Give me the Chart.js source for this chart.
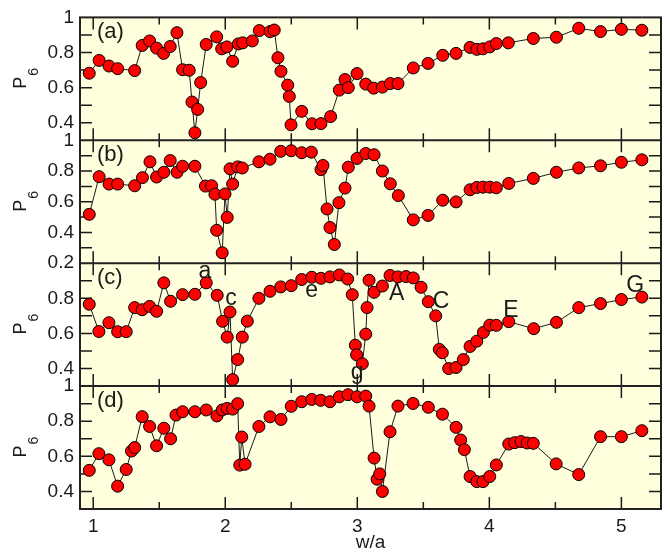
<!DOCTYPE html>
<html>
<head>
<meta charset="utf-8">
<script src="https://cdn.jsdelivr.net/npm/chart.js@4.4.1/dist/chart.umd.min.js"></script>
<style>
  html, body { margin: 0; padding: 0; background: #fff; }
</style>
</head>
<body>
<canvas id="chart" width="670" height="555"></canvas>
<script>
// P6 order parameter vs w/a, four stacked panels (a)-(d)

const xTicks = [1, 2, 3, 4, 5];
const panelNames = ["(a)", "(b)", "(c)", "(d)"];

const aX = [0.97, 1.045, 1.12, 1.185, 1.314, 1.371, 1.427, 1.48, 1.533, 1.583, 1.634, 1.677, 1.727, 1.748, 1.77, 1.791, 1.814, 1.856, 1.935, 1.973, 2.013, 2.056, 2.099, 2.132, 2.205, 2.258, 2.339, 2.371, 2.399, 2.422, 2.473, 2.485, 2.498, 2.579, 2.657, 2.725, 2.798, 2.864, 2.907, 2.932, 2.998, 3.064, 3.124, 3.19, 3.25, 3.308, 3.424, 3.536, 3.647, 3.748, 3.854, 3.905, 3.952, 4.003, 4.053, 4.144, 4.333, 4.508, 4.677, 4.842, 5.0, 5.155];
const aY = [0.682, 0.755, 0.723, 0.708, 0.697, 0.84, 0.866, 0.825, 0.795, 0.834, 0.913, 0.702, 0.699, 0.518, 0.343, 0.476, 0.629, 0.846, 0.889, 0.821, 0.832, 0.75, 0.849, 0.855, 0.866, 0.925, 0.919, 0.928, 0.77, 0.693, 0.614, 0.55, 0.388, 0.465, 0.394, 0.395, 0.435, 0.586, 0.646, 0.60, 0.68, 0.62, 0.597, 0.603, 0.623, 0.623, 0.712, 0.738, 0.784, 0.795, 0.829, 0.818, 0.821, 0.832, 0.851, 0.855, 0.88, 0.887, 0.938, 0.919, 0.932, 0.927];

const bX = [0.97, 1.045, 1.12, 1.185, 1.314, 1.373, 1.43, 1.48, 1.535, 1.583, 1.635, 1.677, 1.77, 1.85, 1.897, 1.922, 1.935, 1.977, 1.998, 2.015, 2.036, 2.056, 2.094, 2.129, 2.255, 2.339, 2.42, 2.5, 2.579, 2.652, 2.725, 2.74, 2.771, 2.793, 2.826, 2.861, 2.907, 2.932, 2.998, 3.064, 3.127, 3.19, 3.25, 3.311, 3.424, 3.536, 3.647, 3.748, 3.854, 3.905, 3.952, 4.003, 4.053, 4.147, 4.333, 4.508, 4.677, 4.842, 5.0, 5.155];
const bY = [0.518, 0.763, 0.715, 0.715, 0.704, 0.757, 0.86, 0.761, 0.792, 0.868, 0.792, 0.831, 0.831, 0.702, 0.704, 0.649, 0.414, 0.268, 0.651, 0.498, 0.814, 0.715, 0.827, 0.82, 0.86, 0.877, 0.928, 0.932, 0.919, 0.923, 0.809, 0.836, 0.553, 0.432, 0.322, 0.594, 0.689, 0.825, 0.882, 0.914, 0.906, 0.80, 0.717, 0.64, 0.482, 0.511, 0.61, 0.599, 0.678, 0.693, 0.695, 0.695, 0.691, 0.719, 0.752, 0.792, 0.82, 0.834, 0.857, 0.873];

const cX = [0.97, 1.043, 1.119, 1.185, 1.25, 1.314, 1.371, 1.427, 1.48, 1.535, 1.586, 1.677, 1.77, 1.856, 1.939, 1.98, 2.015, 2.036, 2.056, 2.094, 2.129, 2.167, 2.255, 2.339, 2.42, 2.5, 2.579, 2.655, 2.725, 2.793, 2.864, 2.927, 2.962, 2.985, 2.995, 3.038, 3.064, 3.074, 3.089, 3.127, 3.19, 3.248, 3.308, 3.369, 3.424, 3.483, 3.538, 3.594, 3.621, 3.644, 3.692, 3.748, 3.803, 3.854, 3.905, 3.955, 4.003, 4.053, 4.147, 4.336, 4.508, 4.677, 4.842, 5.0, 5.155];
const cY = [0.766, 0.611, 0.661, 0.61, 0.61, 0.747, 0.735, 0.754, 0.726, 0.888, 0.783, 0.821, 0.823, 0.888, 0.817, 0.669, 0.579, 0.722, 0.337, 0.451, 0.579, 0.67, 0.80, 0.84, 0.865, 0.872, 0.907, 0.92, 0.914, 0.922, 0.933, 0.91, 0.821, 0.533, 0.478, 0.427, 0.596, 0.747, 0.903, 0.834, 0.87, 0.93, 0.922, 0.924, 0.916, 0.863, 0.781, 0.70, 0.509, 0.49, 0.40, 0.406, 0.451, 0.526, 0.556, 0.606, 0.647, 0.646, 0.667, 0.627, 0.663, 0.747, 0.77, 0.793, 0.807];

const dX = [0.97, 1.043, 1.119, 1.185, 1.25, 1.29, 1.314, 1.371, 1.427, 1.48, 1.535, 1.586, 1.627, 1.677, 1.77, 1.856, 1.937, 1.977, 2.015, 2.056, 2.094, 2.11, 2.125, 2.15, 2.255, 2.339, 2.422, 2.5, 2.579, 2.655, 2.723, 2.793, 2.864, 2.93, 2.998, 3.064, 3.089, 3.127, 3.15, 3.17, 3.19, 3.248, 3.308, 3.422, 3.538, 3.645, 3.748, 3.783, 3.811, 3.854, 3.905, 3.952, 4.003, 4.053, 4.147, 4.192, 4.24, 4.286, 4.333, 4.506, 4.677, 4.842, 5.0, 5.155];
const dY = [0.52, 0.615, 0.58, 0.43, 0.525, 0.63, 0.65, 0.826, 0.77, 0.66, 0.76, 0.70, 0.835, 0.854, 0.854, 0.864, 0.83, 0.864, 0.873, 0.869, 0.90, 0.55, 0.71, 0.555, 0.77, 0.825, 0.81, 0.885, 0.911, 0.924, 0.919, 0.911, 0.939, 0.951, 0.939, 0.943, 0.886, 0.59, 0.47, 0.50, 0.40, 0.74, 0.886, 0.901, 0.879, 0.84, 0.765, 0.693, 0.638, 0.485, 0.456, 0.456, 0.485, 0.551, 0.67, 0.678, 0.684, 0.676, 0.674, 0.557, 0.496, 0.712, 0.712, 0.746];

// letters marked in panel (c)
const annoText = ["a", "c", "e", "A", "C", "E", "G", "g"];
const annoX = [1.846, 2.043, 2.655, 3.298, 3.634, 4.164, 5.104, 2.998];
const annoY = [0.915, 0.761, 0.805, 0.79, 0.743, 0.695, 0.837, 0.338];

const FONT = "'Liberation Sans', Arial, sans-serif";
const INK = "#1a1a1a";
const PAPER = "#ffffdd";
const PANEL_IDS = ["ya", "yb", "yc", "yd"]; // top to bottom

function yAxis(min, max, labels) {
  return {
    type: "linear",
    position: "left",
    stack: "panels",
    stackWeight: 1,
    min,
    max,
    grid: { display: false, drawTicks: false },
    border: { display: false },
    afterBuildTicks: (s) => { s.ticks = labels.map(v => ({ value: v })); },
    ticks: {
      font: { family: FONT, size: 19 },
      color: INK,
      padding: 6,
      autoSkip: false,
      callback: (v) => String(+v.toFixed(1)),
    },
    afterFit: (s) => { s.width = 80; },
  };
}

function series(xs, ys, axis) {
  return {
    data: xs.map((x, i) => ({ x, y: ys[i] })),
    yAxisID: axis,
    borderColor: INK,
    borderWidth: 1,
    pointBackgroundColor: "#ff0000",
    pointBorderColor: "#000",
    pointBorderWidth: 1,
    pointRadius: 6,
    pointHoverRadius: 6,
    tension: 0,
    clip: false,
  };
}

const panelFrame = {
  id: "panelFrame",
  beforeDraw(chart) {
    const { ctx, chartArea: ca } = chart;
    ctx.save();
    ctx.fillStyle = PAPER;
    ctx.fillRect(ca.left, ca.top, ca.right - ca.left, ca.bottom - ca.top);
    ctx.restore();
  },
  beforeDatasetsDraw(chart) {
    const { ctx, chartArea: ca, scales } = chart;
    const xs = scales.x;
    ctx.save();
    ctx.strokeStyle = INK;
    ctx.lineWidth = 1.5;
    ctx.beginPath();
    PANEL_IDS.forEach(id => {
      const s = scales[id];
      // inward y ticks every 0.1 on both sides
      for (let k = Math.round(s.min * 10) + 1; k < Math.round(s.max * 10); k++) {
        const y = s.getPixelForValue(k / 10);
        ctx.moveTo(ca.left, y); ctx.lineTo(ca.left + 12, y);
        ctx.moveTo(ca.right - 12, y); ctx.lineTo(ca.right, y);
      }
      // inward x ticks every 0.5 on panel top and bottom
      for (let k = 2; k <= 10; k++) {
        const x = xs.getPixelForValue(k / 2);
        const len = k % 2 === 0 ? 12 : 7;
        ctx.moveTo(x, s.top); ctx.lineTo(x, s.top + len);
        ctx.moveTo(x, s.bottom); ctx.lineTo(x, s.bottom - len);
      }
    });
    ctx.stroke();

    ctx.lineWidth = 2;
    ctx.strokeStyle = "#222";
    ctx.strokeRect(ca.left, ca.top, ca.right - ca.left, ca.bottom - ca.top);
    ctx.beginPath();
    PANEL_IDS.slice(1).forEach(id => {
      const y = scales[id].top;
      ctx.moveTo(ca.left, y);
      ctx.lineTo(ca.right, y);
    });
    ctx.stroke();
    ctx.restore();
  },
  afterDatasetsDraw(chart) {
    const { ctx, chartArea: ca, scales } = chart;
    ctx.save();
    ctx.fillStyle = INK;
    ctx.textBaseline = "alphabetic";

    PANEL_IDS.forEach((id, i) => {
      const s = scales[id];
      ctx.textAlign = "left";
      ctx.font = `22px ${FONT}`;
      ctx.fillText(panelNames[i], ca.left + 17, s.top + 20.5);

      // y title: P with subscript 6, rotated
      const cy = (s.top + s.bottom) / 2;
      ctx.save();
      ctx.translate(26, cy);
      ctx.rotate(-Math.PI / 2);
      ctx.font = `18px ${FONT}`;
      const wP = ctx.measureText("P").width;
      ctx.font = `14px ${FONT}`;
      const w6 = ctx.measureText("6").width;
      const x0 = -(wP + w6) / 2;
      ctx.font = `18px ${FONT}`;
      ctx.fillText("P", x0, 0);
      ctx.font = `14px ${FONT}`;
      ctx.fillText("6", x0 + wP + 1, 12);
      ctx.restore();
    });

    const xs = scales.x;
    const sc = scales.yc;
    ctx.textAlign = "center";
    ctx.font = `23px ${FONT}`;
    annoText.forEach((t, i) => {
      ctx.fillText(t, xs.getPixelForValue(annoX[i]), sc.getPixelForValue(annoY[i]));
    });
    ctx.restore();
  },
};

new Chart(document.getElementById("chart"), {
  type: "line",
  data: {
    datasets: [
      series(aX, aY, "ya"),
      series(bX, bY, "yb"),
      series(cX, cY, "yc"),
      series(dX, dY, "yd"),
    ],
  },
  options: {
    responsive: false,
    animation: false,
    events: [],
    layout: { padding: { top: 16, right: 9, left: 0, bottom: 0 } },
    plugins: {
      legend: { display: false },
      tooltip: { enabled: false },
    },
    scales: {
      x: {
        type: "linear",
        min: 0.9,
        max: 5.3,
        grid: { display: false, drawTicks: false },
        border: { display: false },
        afterBuildTicks: (s) => { s.ticks = xTicks.map(v => ({ value: v })); },
        ticks: { font: { family: FONT, size: 19 }, color: INK, padding: 6, maxRotation: 0, autoSkip: false },
        title: { display: true, text: "w/a", font: { family: FONT, size: 19 }, color: INK, padding: { top: 0, bottom: 1 } },
        afterFit: (s) => { s.height = 46; },
      },
      // defined bottom-first: the layout places the last stacked axis on top
      yd: yAxis(0.3, 1.0, [0.4, 0.6, 0.8, 1]),
      yc: yAxis(0.3, 1.0, [0.4, 0.6, 0.8]),
      yb: yAxis(0.2, 1.0, [0.2, 0.4, 0.6, 0.8, 1]),
      ya: yAxis(0.3, 1.0, [0.4, 0.6, 0.8, 1]),
    },
  },
  plugins: [panelFrame],
});
</script>
</body>
</html>
